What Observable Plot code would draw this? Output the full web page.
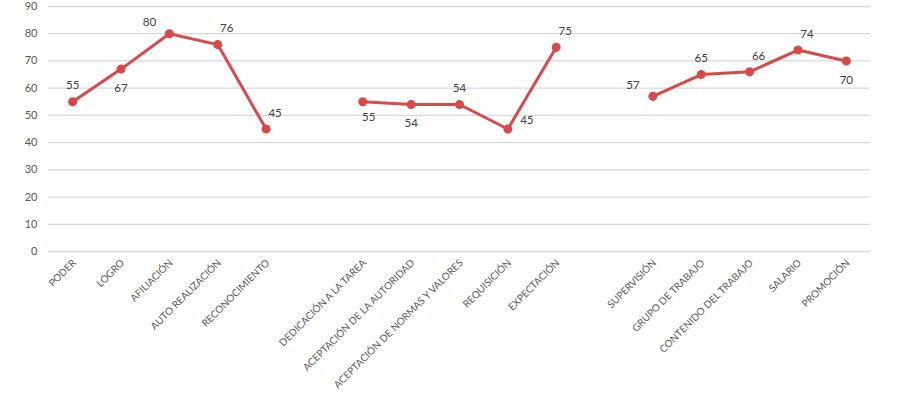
<!DOCTYPE html>
<html><head><meta charset="utf-8">
<script src="https://cdn.jsdelivr.net/npm/d3@7"></script>
<script src="https://cdn.jsdelivr.net/npm/@observablehq/plot@0.6"></script>
<style>
html,body{margin:0;padding:0;background:#fff;}
#chart svg{display:block;}
</style>
</head><body><div id="chart"></div>
<script>
const groupA = ["PODER","LOGRO","AFILIACIÓN","AUTO REALIZACIÓN","RECONOCIMIENTO"];
const valuesA = [55,67,80,76,45];
const groupB = ["DEDICACIÓN A LA TAREA","ACEPTACIÓN DE LA AUTORIDAD","ACEPTACIÓN DE NORMAS Y VALORES","REQUISICIÓN","EXPECTACIÓN"];
const valuesB = [55,54,54,45,75];
const groupC = ["SUPERVISIÓN","GRUPO DE TRABAJO","CONTENIDO DEL TRABAJO","SALARIO","PROMOCIÓN"];
const valuesC = [57,65,66,74,70];
const yTicks = [0,10,20,30,40,50,60,70,80,90];
// data-label placement (Excel-like): t, b, tl, tr, br, r
const placeA = ["t","b","tl","tr","tr"];
const placeB = ["br","b","t","r","tr"];
const placeC = ["tl","t","tr","tr","b"];

const offsets = {t:[0,-16], b:[0,19], tl:[-20,-11], tr:[9,-16], br:[6,16], r:[19,-9]};

const rows = [];
const add = (cats, vals, pl) => cats.forEach((c,i)=>rows.push({key:c, label:c, value:vals[i], place:pl[i]}));
add(groupA, valuesA, placeA);
rows.push({key:"gap1", label:"", value:null});
add(groupB, valuesB, placeB);
rows.push({key:"gap2", label:"", value:null});
add(groupC, valuesC, placeC);
const domain = rows.map(d=>d.key);
const pts = rows.filter(d=>d.value!=null);

const red = "#d84a4a";
const font = "Lato, 'Open Sans', sans-serif";

const labelMarks = Object.entries(offsets).map(([k,[dx,dy]]) =>
  Plot.text(pts.filter(d=>d.place===k), {x:"key", y:"value", text:d=>String(d.value), dx, dy,
    fill:"#404040", fontSize:11.5, fontFamily:font}));

const chart = Plot.plot({
  width:910, height:399,
  marginTop:6, marginBottom:148, marginLeft:48, marginRight:40,
  style:{fontFamily:font, background:"#fff"},
  x:{type:"point", domain, padding:0.5, round:false, axis:null},
  y:{domain:[0,90], axis:null},
  marks:[
    Plot.ruleY(yTicks, {stroke:"#d9d9d9", strokeWidth:1.3}),
    Plot.text(yTicks, {y:d=>d, text:d=>String(d), frameAnchor:"left", textAnchor:"end", dx:-11, fill:"#595959", fontSize:11, fontFamily:font}),
    Plot.line(rows, {x:"key", y:"value", stroke:red, strokeWidth:3}),
    Plot.dot(pts, {x:"key", y:"value", r:3.8, fill:red, stroke:red}),
    ...labelMarks,
    Plot.text(rows, {x:"key", text:"label", frameAnchor:"bottom", rotate:-45, textAnchor:"end", dx:4, dy:12, fill:"#595959", fontSize:10, fontFamily:font})
  ]
});
document.getElementById("chart").appendChild(chart);
</script>
</body></html>
